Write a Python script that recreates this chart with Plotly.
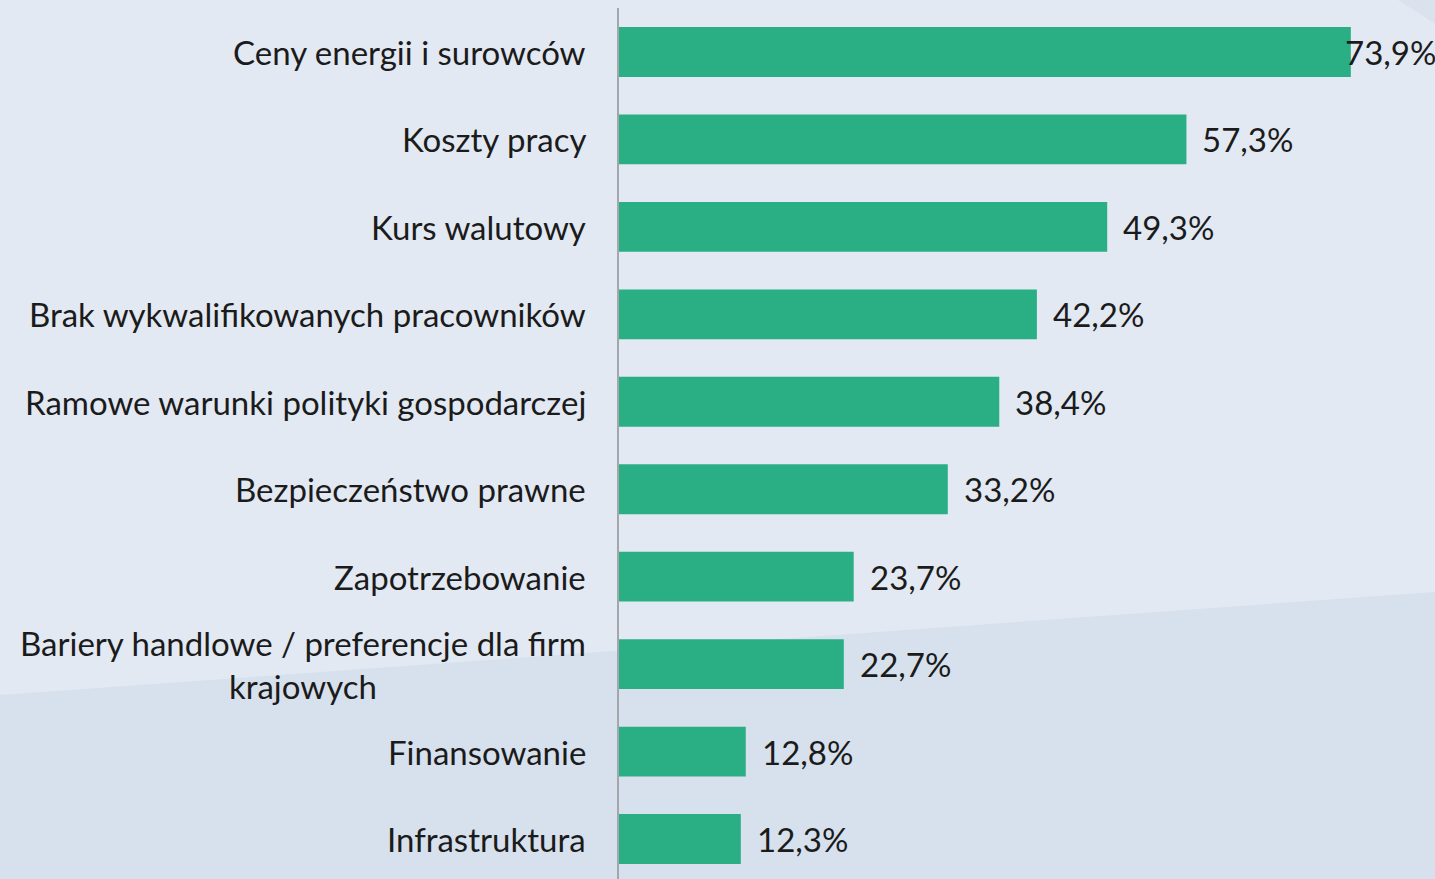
import plotly.graph_objects as go

categories = [
    "Ceny energii i surowców",
    "Koszty pracy",
    "Kurs walutowy",
    "Brak wykwalifikowanych pracowników",
    "Ramowe warunki polityki gospodarczej",
    "Bezpieczeństwo prawne",
    "Zapotrzebowanie",
    "Bariery handlowe / preferencje dla firm<br>krajowych",
    "Finansowanie",
    "Infrastruktura",
]
values = [73.9, 57.3, 49.3, 42.2, 38.4, 33.2, 23.7, 22.7, 12.8, 12.3]
value_labels = ["73,9%", "57,3%", "49,3%", "42,2%", "38,4%", "33,2%", "23,7%", "22,7%", "12,8%", "12,3%"]

FONT = "Lato"
FS = 33
TXT = "#1b1b1b"
W, H = 1435, 879
L, T = 619, 8
PW, PH = W - L, H - T
XMAX = 82.4
LABW = 92

fig = go.Figure()
fig.add_trace(go.Bar(
    x=values, y=list(range(len(categories))), orientation="h",
    marker=dict(color="#2aae84", line=dict(width=0)),
    width=0.57, hoverinfo="skip",
))

annotations = []
for i, (c, v, lab) in enumerate(zip(categories, values, value_labels)):
    annotations.append(dict(
        x=0, xref="paper", y=i, yref="y", text=c, showarrow=False,
        xanchor="right", yanchor="middle", align="center", xshift=-31,
        font=dict(family=FONT, size=FS, color=TXT),
    ))
    # value label, shifted left when it would overflow the right edge
    px_end = v / XMAX * PW
    shift = 14 if px_end + 14 + LABW <= PW else PW - px_end - LABW
    annotations.append(dict(
        x=v, xref="x", y=i, yref="y", text=lab, showarrow=False,
        xanchor="left", yanchor="middle", xshift=shift,
        font=dict(family=FONT, size=FS, color=TXT),
    ))

def px(xp):
    return (xp - L) / PW

def py(yp):
    return (H - yp) / PH

shapes = [
    dict(type="path", xref="paper", yref="paper", layer="below",
         path=f"M {px(0)},{py(695)} L {px(W)},{py(592)} L {px(W)},{py(H)} L {px(0)},{py(H)} Z",
         fillcolor="#d6e1ed", line=dict(width=0)),
    dict(type="path", xref="paper", yref="paper", layer="below",
         path=f"M {px(1398)},{py(0)} Q {px(1418)},{py(12)} {px(W)},{py(24)} L {px(W)},{py(0)} Z",
         fillcolor="#dae2ee", line=dict(width=0)),
]

fig.update_layout(
    width=W, height=H,
    margin=dict(l=L, r=0, t=T, b=0, pad=0),
    paper_bgcolor="#e2e9f3", plot_bgcolor="rgba(0,0,0,0)",
    showlegend=False,
    bargap=0.43,
    xaxis=dict(range=[0, XMAX], showgrid=False, zeroline=False,
               showticklabels=False, showline=False, fixedrange=True),
    yaxis=dict(range=[9.457, -0.503], showgrid=False, zeroline=False,
               showticklabels=False, showline=True, linecolor="#a3a6aa",
               linewidth=2, ticks="", fixedrange=True),
    annotations=annotations,
    shapes=shapes,
)

fig.write_html(
    "out.html",
    config={"displayModeBar": False},
    post_script="document.body.style.margin='0';document.body.style.overflow='hidden';",
)
